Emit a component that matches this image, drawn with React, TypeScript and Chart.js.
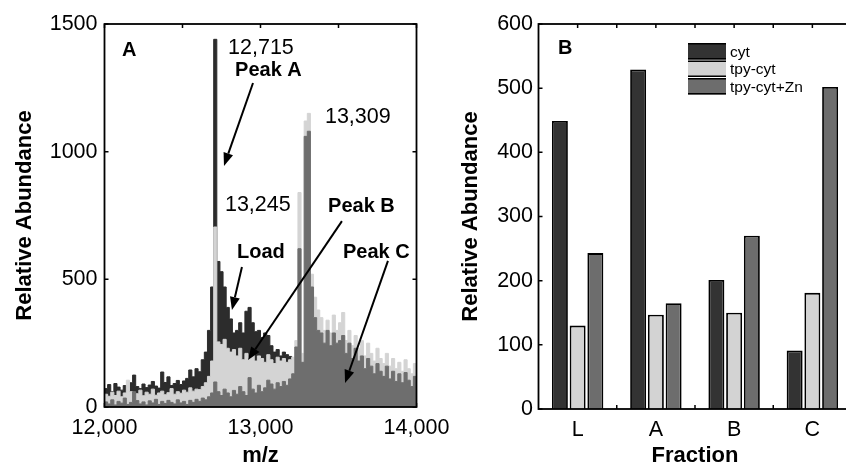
import React, { useEffect, useRef } from "react";
import { Chart, registerables } from "chart.js";

Chart.register(...registerables);

// ---------- Panel A: mass spectra ----------
const massAxis = [
  12000, 12020, 12040, 12060, 12080, 12100, 12120, 12140, 12160, 12180,
  12200, 12220, 12240, 12260, 12280, 12300, 12320, 12340, 12360, 12380,
  12400, 12420, 12440, 12460, 12480, 12500, 12520, 12540, 12560, 12580,
  12600, 12620, 12640, 12660, 12680, 12700, 12720, 12740, 12760, 12780,
  12800, 12820, 12840, 12860, 12880, 12900, 12920, 12940, 12960, 12980,
  13000, 13020, 13040, 13060, 13080, 13100, 13120, 13140, 13160, 13180,
  13200, 13220, 13240, 13260, 13280, 13300, 13320, 13340, 13360, 13380,
  13400, 13420, 13440, 13460, 13480, 13500, 13520, 13540, 13560, 13580,
  13600, 13620, 13640, 13660, 13680, 13700, 13720, 13740, 13760, 13780,
  13800, 13820, 13840, 13860, 13880, 13900, 13920, 13940, 13960, 13980,
  14000,
];

const cytSpectrum = [
  72, 88, 60, 92, 78, 66, 84, 70, 95, 125,
  80, 72, 90, 76, 86, 100, 82, 74, 137, 96,
  118, 84, 92, 104, 88, 102, 112, 145, 118, 150,
  138, 185, 215, 300, 470, 1440, 570, 530, 470, 390,
  345, 290, 300, 330, 290, 375, 390, 330, 295, 300,
  272, 290, 280, 240, 215, 225, 200, 215, 205, 198,
  190, 160, 140, 30, 40, 35, 28, 22, 18, 25,
  20, 15, 22, 18, 12, 20, 16, 10, 14, 18,
  12, 8, 15, 10, 12, 16, 9, 11, 14, 8,
  10, 12, 7, 9, 11, 6, 10, 8, 7, 9,
  5,
];

const tpyCytSpectrum = [
  50, 42, 58, 45, 62, 40, 55, 105, 60, 48,
  52, 66, 44, 58, 50, 70, 46, 55, 62, 48,
  56, 72, 50, 60, 54, 66, 58, 75, 62, 70,
  68, 80, 95, 120, 180, 705, 255, 245, 265, 230,
  215, 225, 200, 230, 185, 210, 195, 215, 180, 200,
  190, 175, 205, 185, 170, 195, 180, 190, 175, 185,
  195, 260, 840, 210, 1120, 1150, 520, 430, 380, 350,
  300, 340, 290, 360, 300, 330, 370, 260, 300, 240,
  280, 230, 260, 200, 250, 210, 180, 230, 190, 170,
  210, 160, 190, 150, 175, 140, 185, 150, 130, 170,
  145,
];

const tpyCytZnSpectrum = [
  20, 12, 28, 8, 22, 15, 35, 10, 18, 60,
  25, 12, 20, 8, 24, 16, 30, 10, 22, 14,
  26, 18, 12, 28, 16, 22, 10, 26, 18, 30,
  22, 35, 28, 40, 55, 98, 60, 45, 70, 55,
  40, 65, 50, 80, 60, 45, 115, 70, 55, 85,
  60, 75, 105, 90, 70, 95, 80, 100, 85, 110,
  130, 235, 620, 175, 1060, 1080, 470, 350, 300, 290,
  250, 300, 240, 290, 250, 260, 280, 210, 250, 190,
  230, 180, 200, 150, 190, 160, 130, 170, 140, 120,
  160, 110, 140, 100, 130, 95, 135, 105, 80, 120,
  100,
];

const massTickMarks = [12000, 12500, 13000, 13500, 14000];
const abundanceTickMarks = [0, 500, 1000, 1500];

const peakNotes = [
  { text: "12,715", mass: 12792, abundance: 1406, bold: false },
  { text: "Peak A", mass: 12837, abundance: 1316, bold: true },
  { text: "13,309", mass: 13413, abundance: 1136, bold: false },
  { text: "13,245", mass: 12772, abundance: 791, bold: false },
  { text: "Peak B", mass: 13433, abundance: 787, bold: true },
  { text: "Load", mass: 12849, abundance: 607, bold: true },
  { text: "Peak C", mass: 13529, abundance: 607, bold: true },
];

const peakArrows = [
  { from: [12952, 1269], to: [12766, 944] },
  { from: [12881, 548], to: [12817, 380] },
  { from: [13522, 728], to: [12920, 184] },
  { from: [13817, 572], to: [13542, 94] },
];

// ---------- Panel B: bars ----------
const fractions = ["L", "A", "B", "C"];
const cytBars = [449, 529, 201, 91];
const tpyCytBars = [130, 147, 150, 181];
const tpyCytZnBars = [243, 165, 270, 502];
const fractionTickMarks = [0, 0.5, 1, 1.5, 2, 2.5, 3];
const barTickMarks = [0, 100, 200, 300, 400, 500, 600];

const DARK = "#2c2c2c";
const LIGHT = "#d4d4d4";
const MID = "#6e6e6e";
const FONT = '"Liberation Sans", Arial, Helvetica, sans-serif';

function drawArrow(ctx: CanvasRenderingContext2D, x1: number, y1: number, x2: number, y2: number) {
  const ang = Math.atan2(y2 - y1, x2 - x1);
  const hl = 13;
  const hw = 5;
  const bx = x2 - hl * Math.cos(ang);
  const by = y2 - hl * Math.sin(ang);
  ctx.beginPath();
  ctx.moveTo(x1, y1);
  ctx.lineTo(bx, by);
  ctx.stroke();
  ctx.beginPath();
  ctx.moveTo(x2, y2);
  ctx.lineTo(bx + hw * Math.sin(ang), by - hw * Math.cos(ang));
  ctx.lineTo(bx - hw * Math.sin(ang), by + hw * Math.cos(ang));
  ctx.closePath();
  ctx.fill();
}

const framePlugin = {
  id: "frame",
  beforeDatasetsDraw(chart: any, _args: any, opts: any) {
    const { ctx, chartArea: a, scales } = chart;
    const L = 4;
    ctx.save();
    ctx.strokeStyle = "#000";
    ctx.lineWidth = 1.5;
    ctx.beginPath();
    for (const v of opts.xMarks || []) {
      const px = scales.x.getPixelForValue(v);
      ctx.moveTo(px, a.top);
      ctx.lineTo(px, a.top + L);
      ctx.moveTo(px, a.bottom);
      ctx.lineTo(px, a.bottom - L);
    }
    for (const v of opts.yMarks || []) {
      const py = scales.y.getPixelForValue(v);
      ctx.moveTo(a.left, py);
      ctx.lineTo(a.left + L, py);
      ctx.moveTo(a.right, py);
      ctx.lineTo(a.right - L, py);
    }
    ctx.stroke();
    ctx.restore();
  },
  afterDatasetsDraw(chart: any, _args: any, opts: any) {
    const { ctx, chartArea: a, scales } = chart;
    ctx.save();
    ctx.strokeStyle = "#000";
    ctx.lineWidth = 1.8;
    ctx.strokeRect(a.left, a.top, a.right - a.left, a.bottom - a.top);

    ctx.fillStyle = "#000";
    ctx.textAlign = "left";
    ctx.textBaseline = "middle";
    if (opts.panel) {
      ctx.font = `bold 20px ${FONT}`;
      ctx.fillText(opts.panel.text, a.left + opts.panel.dx, a.top + opts.panel.dy);
    }
    for (const n of opts.notes || []) {
      ctx.font = n.bold ? `bold 20px ${FONT}` : `21.5px ${FONT}`;
      ctx.fillText(n.text, scales.x.getPixelForValue(n.mass), scales.y.getPixelForValue(n.abundance));
    }
    ctx.lineWidth = 2;
    ctx.strokeStyle = "#000";
    for (const ar of opts.arrows || []) {
      drawArrow(
        ctx,
        scales.x.getPixelForValue(ar.from[0]),
        scales.y.getPixelForValue(ar.from[1]),
        scales.x.getPixelForValue(ar.to[0]),
        scales.y.getPixelForValue(ar.to[1])
      );
    }
    if (opts.legend) {
      const lg = opts.legend;
      const x0 = a.left + lg.dx;
      let y0 = a.top + lg.dy;
      chart.data.datasets.forEach((ds: any) => {
        ctx.fillStyle = ds.backgroundColor;
        ctx.fillRect(x0, y0, lg.w, lg.h);
        ctx.fillStyle = "#000";
        ctx.fillRect(x0, y0, lg.w, 1.5);
        ctx.fillRect(x0, y0 + lg.h - 1.5, lg.w, 1.5);
        ctx.font = `15.5px ${FONT}`;
        ctx.fillText(ds.label, x0 + lg.w + 4, y0 + lg.h / 2 + 1);
        y0 += lg.h + lg.gap;
      });
    }
    ctx.restore();
  },
};

const tickFont = { family: FONT, size: 21.5 };
const titleFont = { family: FONT, size: 22, weight: "bold" as const, lineHeight: 1 };

function toPoints(values: number[]) {
  return values.map((v, i) => ({ x: massAxis[i], y: v }));
}

function spectrumDataset(label: string, values: number[], color: string, order: number) {
  return {
    label,
    data: toPoints(values),
    order,
    borderColor: color,
    backgroundColor: color,
    borderWidth: 1,
    pointRadius: 0,
    stepped: true,
    fill: "origin",
    tension: 0,
  };
}

export default function App() {
  const leftRef = useRef<HTMLCanvasElement>(null);
  const rightRef = useRef<HTMLCanvasElement>(null);

  useEffect(() => {
    const left = new Chart(leftRef.current as HTMLCanvasElement, {
      type: "line",
      data: {
        datasets: [
          spectrumDataset("tpy-cyt+Zn", tpyCytZnSpectrum, MID, 0),
          spectrumDataset("tpy-cyt", tpyCytSpectrum, LIGHT, 1),
          spectrumDataset("cyt", cytSpectrum, DARK, 2),
        ] as any,
      },
      options: {
        responsive: false,
        animation: false,
        events: [],
        layout: { padding: { left: 0, top: 24, right: 53.5, bottom: 0 } },
        plugins: {
          legend: { display: false },
          tooltip: { enabled: false },
          frame: {
            xMarks: massTickMarks,
            yMarks: abundanceTickMarks,
            panel: { text: "A", dx: 17.5, dy: 26 },
            notes: peakNotes,
            arrows: peakArrows,
          },
        } as any,
        scales: {
          x: {
            type: "linear",
            min: 12000,
            max: 14000,
            grid: { display: false, drawTicks: false },
            border: { display: false },
            ticks: {
              stepSize: 1000,
              padding: 8,
              color: "#000",
              font: tickFont,
              maxRotation: 0,
              autoSkip: false,
              callback: (v: any) => Number(v).toLocaleString("en-US"),
            },
            title: { display: true, text: "m/z", color: "#000", font: titleFont, padding: { top: 0, bottom: 0 } },
            afterFit: (s: any) => {
              s.height = 60;
            },
          },
          y: {
            min: 0,
            max: 1500,
            grid: { display: false, drawTicks: false },
            border: { display: false },
            ticks: {
              stepSize: 500,
              padding: 7,
              color: "#000",
              font: tickFont,
              callback: (v: any) => String(v),
            },
            title: {
              display: true,
              text: "Relative Abundance",
              color: "#000",
              font: titleFont,
              padding: { top: 14, bottom: 0 },
            },
            afterFit: (s: any) => {
              s.width = 104.5;
            },
          },
        },
      } as any,
      plugins: [framePlugin],
    });

    const barBase = { borderColor: "#000", borderWidth: 1.8, barPercentage: 0.9, categoryPercentage: 0.68 };
    const right = new Chart(rightRef.current as HTMLCanvasElement, {
      type: "bar",
      data: {
        labels: fractions,
        datasets: [
          { label: "cyt", data: cytBars, backgroundColor: "#333333", ...barBase },
          { label: "tpy-cyt", data: tpyCytBars, backgroundColor: "#d3d3d3", ...barBase },
          { label: "tpy-cyt+Zn", data: tpyCytZnBars, backgroundColor: "#6d6d6d", ...barBase },
        ],
      },
      options: {
        responsive: false,
        animation: false,
        events: [],
        layout: { padding: { left: 0, top: 24, right: 11.5, bottom: 0 } },
        plugins: {
          legend: { display: false },
          tooltip: { enabled: false },
          frame: {
            xMarks: fractionTickMarks,
            yMarks: barTickMarks,
            panel: { text: "B", dx: 19.5, dy: 24 },
            legend: { dx: 149.5, dy: 19, w: 38, h: 16.5, gap: 1 },
          },
        } as any,
        scales: {
          x: {
            grid: { display: false, drawTicks: false },
            border: { display: false },
            ticks: { padding: 8, color: "#000", font: tickFont },
            title: { display: true, text: "Fraction", color: "#000", font: titleFont, padding: { top: 0, bottom: 0 } },
            afterFit: (s: any) => {
              s.height = 58;
            },
          },
          y: {
            min: 0,
            max: 600,
            grid: { display: false, drawTicks: false },
            border: { display: false },
            ticks: {
              stepSize: 100,
              padding: 5.5,
              color: "#000",
              font: tickFont,
              callback: (v: any) => String(v),
            },
            title: {
              display: true,
              text: "Relative Abundance",
              color: "#000",
              font: titleFont,
              padding: { top: 37, bottom: 0 },
            },
            afterFit: (s: any) => {
              s.width = 115.5;
            },
          },
        },
      } as any,
      plugins: [framePlugin],
    });

    return () => {
      left.destroy();
      right.destroy();
    };
  }, []);

  return (
    <div
      style={{
        position: "fixed",
        left: 0,
        top: 0,
        width: 846,
        height: 467,
        overflow: "hidden",
        background: "#fff",
      }}
    >
      <canvas
        ref={leftRef}
        width={470}
        height={467}
        style={{ position: "absolute", left: 0, top: 0, width: 470, height: 467 }}
      />
      <canvas
        ref={rightRef}
        width={440}
        height={467}
        style={{ position: "absolute", left: 423, top: 0, width: 440, height: 467 }}
      />
    </div>
  );
}
